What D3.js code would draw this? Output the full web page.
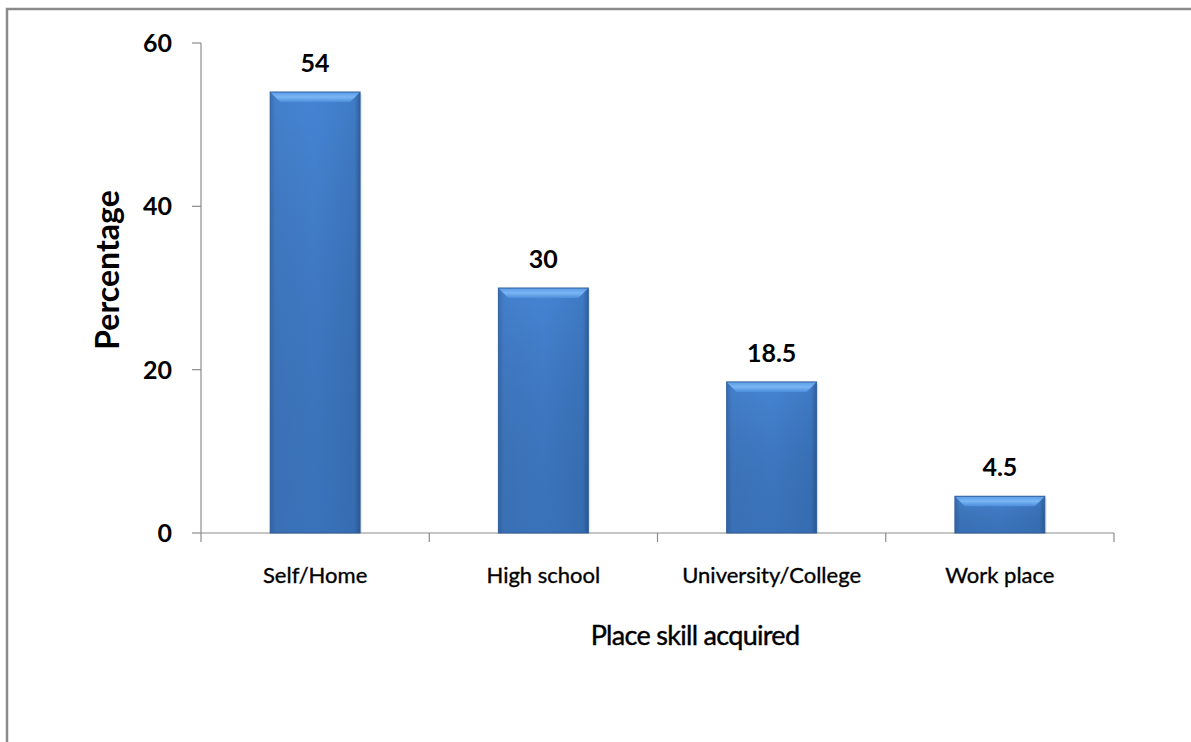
<!DOCTYPE html>
<html><head><meta charset="utf-8">
<script src="https://cdnjs.cloudflare.com/ajax/libs/d3/7.8.5/d3.min.js"></script>
<style>html,body{margin:0;padding:0;background:#fff;}svg{display:block;}</style>
</head><body>
<svg id="chart" width="1191" height="742"></svg>
<script>
const categories = ["Self/Home", "High school", "University/College", "Work place"];
const values = [54, 30, 18.5, 4.5];
const valueLabels = ["54", "30", "18.5", "4.5"];
const yTicks = [0, 20, 40, 60];
const xTitle = "Place skill acquired";
const yTitle = "Percentage";

const svg = d3.select("#chart");
const font = "Lato, 'Open Sans', sans-serif";

// outer border
svg.append("rect").attr("x", 7).attr("y", 9).attr("width", 1250).attr("height", 800)
  .attr("fill", "none").attr("stroke", "#8a8a8a").attr("stroke-width", 2.5);

const x0 = 201, x1 = 1114, yTop = 43, yBot = 533;
const x = d3.scaleBand().domain(categories).range([x0, x1]).paddingInner(0.606).paddingOuter(0.303);
const y = d3.scaleLinear().domain([0, 60]).range([yBot, yTop]);

const defs = svg.append("defs");
const gH = defs.append("linearGradient").attr("id", "barH").attr("x1", 0).attr("x2", 1).attr("y1", 0).attr("y2", 0);
gH.append("stop").attr("offset", 0).attr("stop-color", "#3a6eb3");
gH.append("stop").attr("offset", 0.06).attr("stop-color", "#4480cc");
gH.append("stop").attr("offset", 0.5).attr("stop-color", "#4584d4");
gH.append("stop").attr("offset", 0.94).attr("stop-color", "#3f7bc6");
gH.append("stop").attr("offset", 1).attr("stop-color", "#2f5f9f");
const gV = defs.append("linearGradient").attr("id", "barV").attr("x1", 0).attr("x2", 0).attr("y1", 0).attr("y2", 1);
gV.append("stop").attr("offset", 0).attr("stop-color", "#000").attr("stop-opacity", 0);
gV.append("stop").attr("offset", 1).attr("stop-color", "#1a3f70").attr("stop-opacity", 0.25);
const gTop = defs.append("linearGradient").attr("id", "barTop").attr("x1", 0).attr("x2", 0).attr("y1", 0).attr("y2", 1);
gTop.append("stop").attr("offset", 0).attr("stop-color", "#5a9be6");
gTop.append("stop").attr("offset", 0.5).attr("stop-color", "#7ab6f5");
gTop.append("stop").attr("offset", 1).attr("stop-color", "#4d8ddb");

// axes lines
svg.append("line").attr("x1", x0).attr("x2", x0).attr("y1", yTop).attr("y2", yBot).attr("stroke", "#8c8c8c").attr("stroke-width", 1.2);
svg.append("line").attr("x1", x0).attr("x2", x1).attr("y1", yBot).attr("y2", yBot).attr("stroke", "#8c8c8c").attr("stroke-width", 1.2);

// y ticks and labels
yTicks.forEach(t => {
  svg.append("line").attr("x1", x0 - 9).attr("x2", x0).attr("y1", y(t)).attr("y2", y(t)).attr("stroke", "#8c8c8c").attr("stroke-width", 1.2);
  svg.append("text").attr("x", x0 - 29).attr("y", y(t)).attr("dy", "0.36em").attr("text-anchor", "end")
    .attr("font-family", font).attr("font-weight", "bold").attr("font-size", 25).attr("fill", "#000").text(t);
});

// x ticks at band boundaries
const bounds = [x0].concat(categories.map(c => x(c) - x.step() * x.paddingInner() / 2 + x.step()));
bounds.forEach(b => {
  svg.append("line").attr("x1", b).attr("x2", b).attr("y1", yBot).attr("y2", yBot + 9).attr("stroke", "#8c8c8c").attr("stroke-width", 1.2);
});

// bars
const bw = x.bandwidth();
categories.forEach((c, i) => {
  const bx = x(c), by = y(values[i]), bh = yBot - by;
  const g = svg.append("g");
  g.append("rect").attr("x", bx + 2).attr("y", by + 2).attr("width", bw).attr("height", bh - 2).attr("fill", "#000").attr("opacity", 0.08);
  g.append("rect").attr("x", bx).attr("y", by).attr("width", bw).attr("height", bh).attr("fill", "url(#barH)");
  g.append("rect").attr("x", bx).attr("y", by).attr("width", bw).attr("height", bh).attr("fill", "url(#barV)");
  const bev = Math.min(10, bh / 3);
  g.append("path").attr("d", `M${bx},${by} L${bx + bw},${by} L${bx + bw - bev},${by + bev} L${bx + bev},${by + bev} Z`).attr("fill", "url(#barTop)");
  g.append("rect").attr("x", bx).attr("y", by).attr("width", bw).attr("height", bh).attr("fill", "none").attr("stroke", "#2f5f9c").attr("stroke-width", 1);
  svg.append("text").attr("x", bx + bw / 2).attr("y", by - 20).attr("text-anchor", "middle")
    .attr("font-family", font).attr("font-weight", "bold").attr("font-size", 25).attr("fill", "#000").text(valueLabels[i]);
  svg.append("text").attr("x", bx + bw / 2).attr("y", 583).attr("text-anchor", "middle")
    .attr("font-family", font).attr("font-weight", "normal").attr("font-size", 22).attr("fill", "#000")
    .attr("stroke", "#000").attr("stroke-width", 0.35).text(c);
});

// titles
svg.append("text").attr("x", 695).attr("y", 645).attr("text-anchor", "middle")
  .attr("font-family", font).attr("font-size", 27).attr("letter-spacing", -0.7).attr("fill", "#000")
  .attr("stroke", "#000").attr("stroke-width", 0.4).text(xTitle);
svg.append("text").attr("transform", `translate(119,270) rotate(-90)`).attr("text-anchor", "middle")
  .attr("font-family", font).attr("font-weight", "bold").attr("font-size", 32).attr("fill", "#000").text(yTitle);
</script>
</body></html>
